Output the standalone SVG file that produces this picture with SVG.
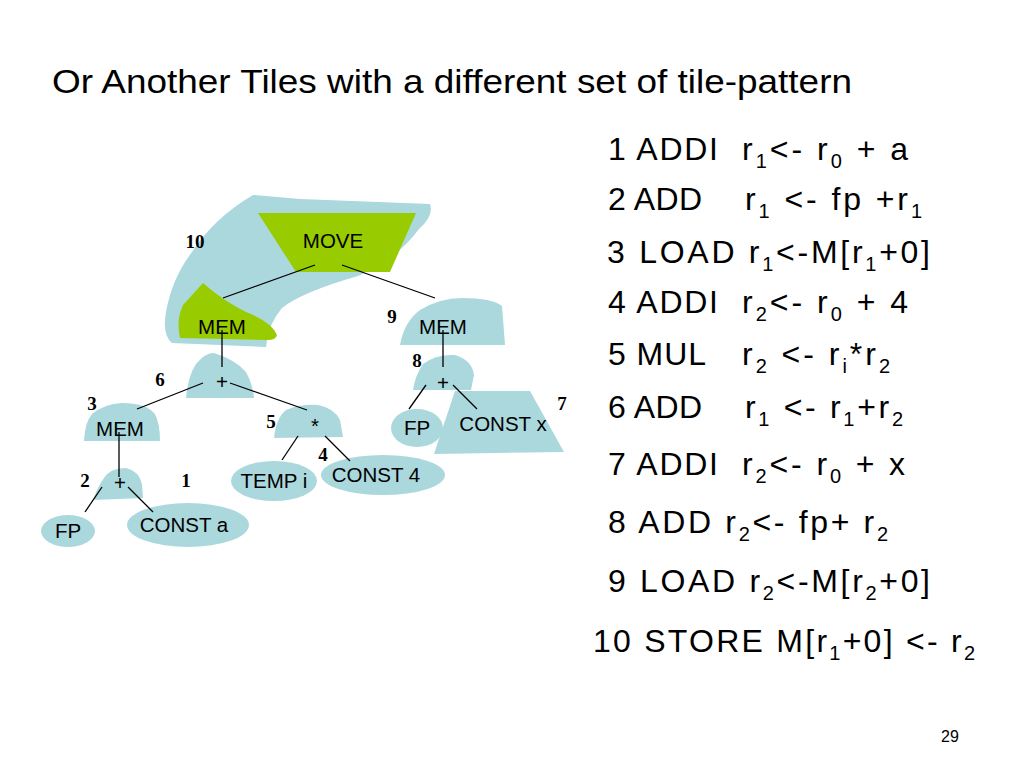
<svg xmlns="http://www.w3.org/2000/svg" width="1024" height="768" viewBox="0 0 1024 768">
<style>
.tile{fill:#AAD8DC;stroke:none}
.green{fill:#99CC00;stroke:none}
.lbl{font-family:"Liberation Sans",Arial,sans-serif;font-size:20.5px;fill:#000;text-anchor:middle}
.num{font-family:"Liberation Serif","Times New Roman",serif;font-weight:bold;font-size:19px;fill:#000;text-anchor:middle}
.code{font-family:"Liberation Sans",Arial,sans-serif;font-size:32px;fill:#000}
.sub{font-size:20px}
.edge{stroke:#000;stroke-width:1.3;fill:none}
</style>
<rect width="1024" height="768" fill="#fff"/>
<text x="52" y="93" font-family="Liberation Sans, Arial, sans-serif" font-size="33" textLength="800" lengthAdjust="spacingAndGlyphs">Or Another Tiles with a different set of tile-pattern</text>

<g id="tile10">
<path class="tile" d="M253,195 L300,199 L430,204 Q434,216 419,229 Q398,258 358,276 Q302,292 282,308 Q268,324 266,347 L172,343 Q162,335 166,312 Q172,278 192,252 Q214,218 253,195 Z"/>
<polygon class="green" points="258,213 416,213 390,272 296,272"/>
<path class="green" d="M203,283 Q222,300 246,312 Q272,322 277,335 Q276,340 268,340 L180,338 Q176,320 183,305 Z"/>
<text class="num" x="195" y="248">10</text>
</g>
<g id="node-move"><text class="lbl" x="333" y="248">MOVE</text></g>
<g id="node-mem-l"><text class="lbl" x="222" y="334">MEM</text></g>

<g id="node-mem9">
<path class="tile" d="M400,345 Q404,322 420,310 Q440,298 462,298 Q492,298 502,306 L505,345 Z"/>
<text class="num" x="392" y="323">9</text>
<text class="lbl" x="443" y="334">MEM</text>
</g>
<g id="node-plus8">
<path class="tile" d="M413,390 Q415,376 423,364 Q436,354 455,355 Q472,360 474,375 L471,390 Z"/>
<text class="num" x="417" y="367">8</text>
<text class="lbl" x="443" y="390">+</text>
</g>
<g id="node-fp-r">
<ellipse class="tile" cx="417" cy="428" rx="26" ry="19"/>
<text class="lbl" x="417" y="435">FP</text>
</g>
<g id="node-constx">
<polygon class="tile" points="455,391 530,391 564,452 434,454"/>
<text class="num" x="562" y="410">7</text>
<text class="lbl" x="503" y="431">CONST x</text>
</g>

<g id="node-plus6">
<path class="tile" d="M186,398 Q188,376 196,364 Q206,352 214,353 Q236,360 246,372 Q253,385 254,398 Z"/>
<text class="num" x="160" y="386">6</text>
<text class="lbl" x="222" y="389">+</text>
</g>
<g id="node-mem3">
<path class="tile" d="M84,441 Q85,422 92,414 Q104,404 122,403 Q146,403 155,414 Q160,424 160,441 Z"/>
<text class="num" x="92" y="410">3</text>
<text class="lbl" x="120" y="436">MEM</text>
</g>
<g id="node-mul">
<path class="tile" d="M274,438 Q276,418 286,410 Q300,404 318,405 Q334,408 340,420 L343,437 Z"/>
<text class="num" x="271" y="428">5</text>
<text class="lbl" x="315" y="433">*</text>
</g>
<g id="node-plus2">
<path class="tile" d="M93,500 Q98,486 104,478 Q110,468 126,468 Q139,471 142,484 L143,498 Z"/>
<text class="num" x="85" y="487">2</text>
<text class="num" x="186" y="487">1</text>
<text class="lbl" x="120" y="490">+</text>
</g>
<g id="node-fp-l">
<ellipse class="tile" cx="68" cy="531" rx="27" ry="16"/>
<text class="lbl" x="68" y="538">FP</text>
</g>
<g id="node-consta">
<ellipse class="tile" cx="188" cy="525" rx="61" ry="22"/>
<text class="lbl" x="184" y="532">CONST a</text>
</g>
<g id="node-tempi">
<ellipse class="tile" cx="274" cy="481" rx="43" ry="20"/>
<text class="lbl" x="274" y="488">TEMP i</text>
</g>
<g id="node-const4">
<ellipse class="tile" cx="383" cy="475" rx="62" ry="20"/>
<text class="num" x="323" y="461">4</text>
<text class="lbl" x="376" y="482">CONST 4</text>
</g>

<g id="connectors">
<line class="edge" x1="315" y1="265" x2="223" y2="298"/>
<line class="edge" x1="342" y1="265" x2="435" y2="298"/>
<line class="edge" x1="222" y1="330" x2="222" y2="367"/>
<line class="edge" x1="203" y1="383" x2="137" y2="409"/>
<line class="edge" x1="230" y1="383" x2="307" y2="410"/>
<line class="edge" x1="119" y1="432" x2="119" y2="477"/>
<line class="edge" x1="102" y1="487" x2="85" y2="512"/>
<line class="edge" x1="128" y1="487" x2="153" y2="512"/>
<line class="edge" x1="298" y1="436" x2="282" y2="460"/>
<line class="edge" x1="325" y1="436" x2="350" y2="461"/>
<line class="edge" x1="443" y1="330" x2="443" y2="367"/>
<line class="edge" x1="426" y1="385" x2="409" y2="409"/>
<line class="edge" x1="453" y1="385" x2="477" y2="409"/>
</g>

<g id="code">
<text class="code" x="608" y="160" textLength="110" lengthAdjust="spacing">1 ADDI</text>
<text class="code" x="742" y="160" textLength="166" lengthAdjust="spacing">r<tspan class="sub" dy="8">1</tspan><tspan dy="-8">&lt;- r</tspan><tspan class="sub" dy="8">0</tspan><tspan dy="-8"> + a</tspan></text>
<text class="code" x="608" y="210" textLength="94" lengthAdjust="spacing">2 ADD</text>
<text class="code" x="745" y="210" textLength="177" lengthAdjust="spacing">r<tspan class="sub" dy="8">1</tspan><tspan dy="-8"> &lt;- fp +r</tspan><tspan class="sub" dy="8">1</tspan></text>
<text class="code" x="607" y="263" textLength="323" lengthAdjust="spacing">3 LOAD r<tspan class="sub" dy="8">1</tspan><tspan dy="-8">&lt;-M[r</tspan><tspan class="sub" dy="8">1</tspan><tspan dy="-8">+0]</tspan></text>
<text class="code" x="608" y="313" textLength="110" lengthAdjust="spacing">4 ADDI</text>
<text class="code" x="742" y="313" textLength="166" lengthAdjust="spacing">r<tspan class="sub" dy="8">2</tspan><tspan dy="-8">&lt;- r</tspan><tspan class="sub" dy="8">0</tspan><tspan dy="-8"> + 4</tspan></text>
<text class="code" x="608" y="365" textLength="98" lengthAdjust="spacing">5 MUL</text>
<text class="code" x="742" y="365" textLength="148" lengthAdjust="spacing">r<tspan class="sub" dy="8">2</tspan><tspan dy="-8"> &lt;- r</tspan><tspan class="sub" dy="8">i</tspan><tspan dy="-8">*r</tspan><tspan class="sub" dy="8">2</tspan></text>
<text class="code" x="608" y="418" textLength="94" lengthAdjust="spacing">6 ADD</text>
<text class="code" x="745" y="418" textLength="158" lengthAdjust="spacing">r<tspan class="sub" dy="8">1</tspan><tspan dy="-8"> &lt;- r</tspan><tspan class="sub" dy="8">1</tspan><tspan dy="-8">+r</tspan><tspan class="sub" dy="8">2</tspan></text>
<text class="code" x="608" y="475" textLength="110" lengthAdjust="spacing">7 ADDI</text>
<text class="code" x="742" y="475" textLength="163" lengthAdjust="spacing">r<tspan class="sub" dy="8">2</tspan><tspan dy="-8">&lt;- r</tspan><tspan class="sub" dy="8">0</tspan><tspan dy="-8"> + x</tspan></text>
<text class="code" x="608" y="533" textLength="280" lengthAdjust="spacing">8 ADD r<tspan class="sub" dy="8">2</tspan><tspan dy="-8">&lt;- fp+ r</tspan><tspan class="sub" dy="8">2</tspan></text>
<text class="code" x="608" y="592" textLength="322" lengthAdjust="spacing">9 LOAD r<tspan class="sub" dy="8">2</tspan><tspan dy="-8">&lt;-M[r</tspan><tspan class="sub" dy="8">2</tspan><tspan dy="-8">+0]</tspan></text>
<text class="code" x="593" y="652" textLength="382" lengthAdjust="spacing">10 STORE M[r<tspan class="sub" dy="8">1</tspan><tspan dy="-8">+0] &lt;- r</tspan><tspan class="sub" dy="8">2</tspan></text>
</g>
<text x="950" y="742" font-family="Liberation Sans, Arial, sans-serif" font-size="16" text-anchor="middle">29</text>
</svg>
